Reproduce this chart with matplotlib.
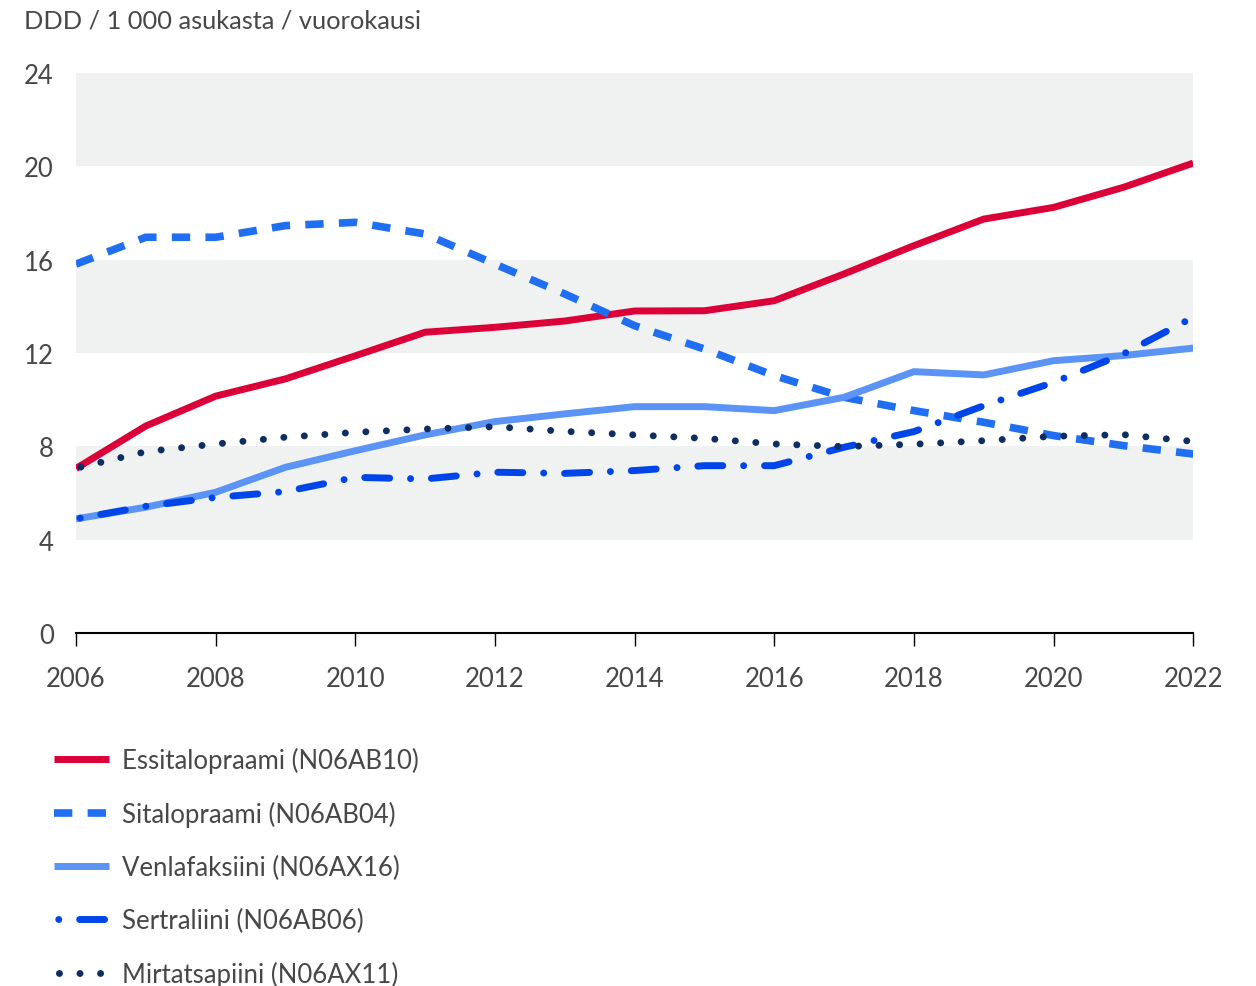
import matplotlib.pyplot as plt

plt.rcParams["font.family"] = ["Lato", "DejaVu Sans"]

years = list(range(2006, 2023))

essitalopraami = [7.05, 8.87, 10.15, 10.89, 11.88, 12.89, 13.1, 13.37, 13.8,
                  13.81, 14.24, 15.39, 16.6, 17.74, 18.24, 19.1, 20.14]
sitalopraami = [15.81, 16.96, 16.96, 17.46, 17.6, 17.1, 15.81, 14.53, 13.17,
                12.17, 11.03, 10.1, 9.53, 9.03, 8.46, 8.03, 7.67]
venlafaksiini = [4.89, 5.39, 6.03, 7.1, 7.81, 8.49, 9.06, 9.39, 9.7,
                 9.7, 9.53, 10.1, 11.2, 11.06, 11.67, 11.89, 12.21]
sertraliini = [4.89, 5.43, 5.81, 6.06, 6.67, 6.6, 6.89, 6.84, 6.96,
               7.17, 7.17, 7.96, 8.63, 9.74, 10.74, 11.96, 13.53]
mirtatsapiini = [7.06, 7.77, 8.1, 8.39, 8.6, 8.74, 8.84, 8.64, 8.49,
                 8.34, 8.1, 7.99, 8.09, 8.24, 8.43, 8.5, 8.21]

labels = ["Essitalopraami (N06AB10)", "Sitalopraami (N06AB04)",
          "Venlafaksiini (N06AX16)", "Sertraliini (N06AB06)",
          "Mirtatsapiini (N06AX11)"]

y_ticks = [0, 4, 8, 12, 16, 20, 24]
x_ticks = list(range(2006, 2023, 2))
bands = [(4, 8), (12, 16), (20, 24)]

text_color = "#474747"
fs = 18.5

fig = plt.figure(figsize=(12.56, 9.87), dpi=100)
ax = fig.add_axes([0.0605, 0.3577, 0.8895, 0.5673])

for lo, hi in bands:
    ax.axhspan(lo, hi, color="#f0f1f1", lw=0, zorder=0)

ax.plot(years, essitalopraami, color="#dc0039", lw=5, solid_capstyle="butt",
        label=labels[0], zorder=3)
ax.plot(years, sitalopraami, color="#206ff2", lw=5.5, ls=(0, (2.4, 2.0)),
        dash_capstyle="butt", label=labels[1], zorder=3)
ax.plot(years, venlafaksiini, color="#5b94f6", lw=5, solid_capstyle="butt",
        label=labels[2], zorder=3)
ax.plot(years, sertraliini, color="#0045ea", lw=5, ls=(9.0, (0.01, 3.0, 3.6, 3.0)),
        dash_capstyle="round", label=labels[3], zorder=4, clip_on=False)
ax.plot(years, mirtatsapiini, color="#0e2d62", lw=5, ls=(2.25, (0.01, 2.95)),
        dash_capstyle="round", label=labels[4], zorder=5, clip_on=False)

ax.set_xlim(2006, 2022)
ax.set_ylim(0, 24)
ax.set_xticks(x_ticks)
ax.set_yticks(y_ticks)

for side in ["top", "right", "left"]:
    ax.spines[side].set_visible(False)
ax.spines["bottom"].set_linewidth(1.5)
ax.spines["bottom"].set_color("black")

ax.tick_params(axis="x", length=9, width=1, color="black", pad=14.5,
               labelsize=fs, labelcolor=text_color)
ax.tick_params(axis="y", length=0, pad=16, labelsize=fs, labelcolor=text_color)

fig.text(0.019, 0.979, "DDD / 1 000 asukasta / vuorokausi", fontsize=18.3,
         color=text_color, va="center", ha="left")

leg = ax.legend(loc="upper left", bbox_to_anchor=(0.043, 0.242),
                bbox_transform=fig.transFigure, frameon=False, fontsize=fs,
                handlelength=2.13, handletextpad=0.53, labelspacing=1.08,
                borderpad=0, borderaxespad=0)
for t in leg.get_texts():
    t.set_color(text_color)

fig.savefig("out.png", dpi=100)
